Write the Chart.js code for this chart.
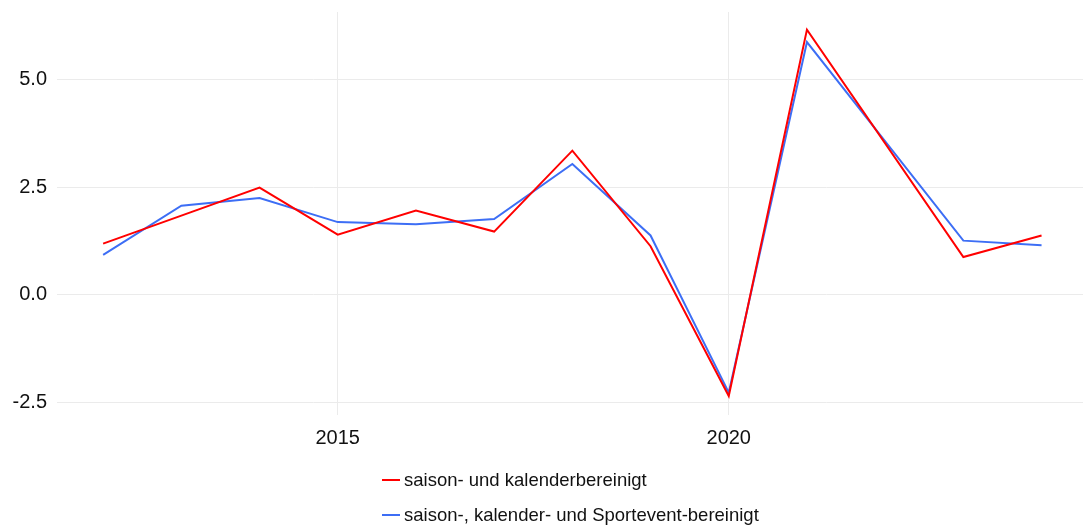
<!DOCTYPE html>
<html>
<head>
<meta charset="utf-8">
<script src="https://cdn.jsdelivr.net/npm/chart.js@4/dist/chart.umd.min.js"></script>
<style>
  html, body { margin: 0; padding: 0; background: #fff; }
  #wrap { position: relative; width: 1083px; height: 529px; }
  #legend { position: absolute; left: 382px; top: 462px; font-family: "Liberation Sans", Arial, sans-serif; font-size: 18.5px; color: #111; }
  .item { display: flex; align-items: center; height: 35px; }
  .sw { width: 18px; height: 2px; margin-right: 4px; }
</style>
</head>
<body>
<div id="wrap">
  <canvas id="c" width="1083" height="529"></canvas>
  <div id="legend"></div>
</div>
<script>
var RED = "#ff0000";
var BLUE = "#3d6ef5";

// Jahre (2022 ist im Original nicht als eigener Punkt sichtbar)
var years = [2012, 2013, 2014, 2015, 2016, 2017, 2018, 2019, 2020, 2021, 2023, 2024];
var saisonKalender = [1.19, 1.84, 2.49, 1.40, 1.96, 1.47, 3.35, 1.13, -2.35, 6.16, 0.88, 1.38];
var saisonSport = [0.93, 2.07, 2.25, 1.69, 1.64, 1.76, 3.04, 1.38, -2.27, 5.87, 1.26, 1.15];
var xTicks = [2015, 2020];
var yTicks = [-2.5, 0, 2.5, 5];
var labels = ["saison- und kalenderbereinigt", "saison-, kalender- und Sportevent-bereinigt"];

var pts = function(vals){
    var out = [];
    for(var i = 0; i < years.length; i++){
        out.push({x: years[i], y: vals[i]});
    }
    return out;
};

var FONT = { family: "'Liberation Sans', Arial, sans-serif", size: 20 };

var ctx = document.getElementById("c").getContext("2d");
new Chart(ctx, {
    type: "line",
    data: {
        datasets: [
            { label: labels[0], data: pts(saisonKalender), borderColor: RED, backgroundColor: RED, borderWidth: 2, pointRadius: 0, tension: 0 },
            { label: labels[1], data: pts(saisonSport), borderColor: BLUE, backgroundColor: BLUE, borderWidth: 2, pointRadius: 0, tension: 0 }
        ]
    },
    options: {
        responsive: false,
        animation: false,
        layout: { padding: { top: 12, right: 0, bottom: 74, left: 0 } },
        plugins: { legend: { display: false }, tooltip: { enabled: false } },
        scales: {
            x: {
                type: "linear",
                min: 2011.41,
                max: 2024.53,
                border: { display: false },
                grid: { color: "#ebebeb", drawTicks: false },
                ticks: { color: "#111", font: FONT, padding: 11, maxRotation: 0, callback: function(v){ return String(v); } },
                afterBuildTicks: function(axis){ axis.ticks = xTicks.map(function(v){ return {value: v}; }); },
                afterFit: function(axis){ axis.height = 40; axis.paddingLeft = 0; axis.paddingRight = 0; }
            },
            y: {
                min: -2.79,
                max: 6.57,
                border: { display: false },
                grid: { color: "#ebebeb", drawTicks: false },
                ticks: { color: "#111", font: FONT, padding: 10, callback: function(v){ return v.toFixed(1); } },
                afterBuildTicks: function(axis){ axis.ticks = yTicks.map(function(v){ return {value: v}; }); },
                afterFit: function(axis){ axis.width = 57; axis.paddingTop = 0; axis.paddingBottom = 0; }
            }
        }
    }
});

var lg = document.getElementById("legend");
[RED, BLUE].forEach(function(col, i){
    var row = document.createElement("div");
    row.className = "item";
    var sw = document.createElement("span");
    sw.className = "sw";
    sw.style.background = col;
    var tx = document.createElement("span");
    tx.textContent = labels[i];
    row.appendChild(sw);
    row.appendChild(tx);
    lg.appendChild(row);
});
</script>
</body>
</html>
